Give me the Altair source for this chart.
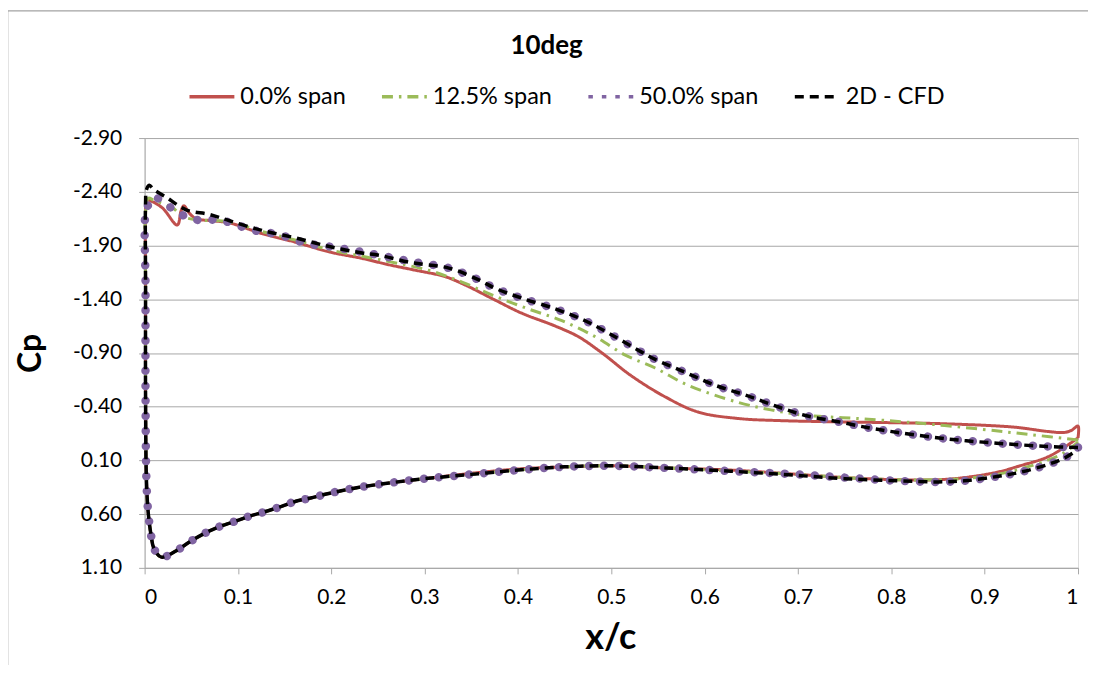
import altair as alt
import pandas as pd

chart_title = ["10deg"]
series_names = ["0.0% span", "12.5% span", "50.0% span", "2D - CFD"]
series_colors = ["#C0504D", "#9BBB59", "#8064A2", "#000000"]

# ---- upper (suction) surface, trailing edge -> leading edge ----
x_up_0 = [1.000, 1.000, 0.993, 0.985, 0.967, 0.931, 0.860, 0.807, 0.735, 0.682, 0.636,
          0.593, 0.558, 0.521, 0.490, 0.465, 0.440, 0.404, 0.376, 0.344, 0.322, 0.290,
          0.262, 0.233, 0.198, 0.162, 0.126, 0.091, 0.073, 0.055, 0.048, 0.042, 0.039,
          0.035, 0.019, 0.005, 0.002]
cp_up_0 = [-0.11, -0.22, -0.18, -0.16, -0.17, -0.21, -0.24, -0.25, -0.26, -0.27, -0.29,
           -0.35, -0.49, -0.69, -0.90, -1.05, -1.15, -1.27, -1.39, -1.53, -1.61, -1.67,
           -1.72, -1.78, -1.84, -1.93, -2.01, -2.11, -2.13, -2.15, -2.20, -2.27, -2.22,
           -2.09, -2.25, -2.32, -2.32]

x_up_125 = [1.000, 0.949, 0.896, 0.825, 0.764, 0.707, 0.671, 0.636, 0.582, 0.547, 0.515,
            0.483, 0.447, 0.411, 0.372, 0.340, 0.304, 0.262, 0.233, 0.198, 0.162, 0.126,
            0.091, 0.055, 0.041, 0.030, 0.010, 0.004]
cp_up_125 = [-0.09, -0.14, -0.19, -0.25, -0.29, -0.32, -0.37, -0.44, -0.60, -0.76, -0.88,
             -1.05, -1.20, -1.31, -1.44, -1.56, -1.67, -1.75, -1.80, -1.86, -1.95, -2.03,
             -2.12, -2.14, -2.17, -2.25, -2.32, -2.34]

x_up_50 = [1.000, 0.967, 0.913, 0.860, 0.807, 0.778, 0.743, 0.707, 0.675, 0.643, 0.611,
           0.579, 0.547, 0.532, 0.500, 0.472, 0.440, 0.404, 0.376, 0.358, 0.326, 0.286,
           0.251, 0.233, 0.198, 0.173, 0.156, 0.139, 0.123, 0.106, 0.089, 0.073, 0.055,
           0.039, 0.025, 0.010, 0.004]
cp_up_50 = [-0.02, -0.03, -0.06, -0.10, -0.16, -0.20, -0.26, -0.32, -0.41, -0.51, -0.60,
            -0.72, -0.84, -0.91, -1.07, -1.20, -1.31, -1.41, -1.50, -1.58, -1.69, -1.75,
            -1.81, -1.84, -1.89, -1.92, -1.97, -2.01, -2.03, -2.07, -2.12, -2.14, -2.14,
            -2.19, -2.27, -2.35, -2.28]

x_up_cfd = [1.000, 0.967, 0.913, 0.860, 0.807, 0.778, 0.743, 0.707, 0.675, 0.643, 0.611,
            0.579, 0.547, 0.532, 0.500, 0.472, 0.440, 0.404, 0.376, 0.358, 0.326, 0.286,
            0.251, 0.233, 0.198, 0.162, 0.126, 0.091, 0.069, 0.045, 0.023, 0.010, 0.005,
            0.002]
cp_up_cfd = [-0.02, -0.03, -0.06, -0.10, -0.16, -0.20, -0.26, -0.32, -0.41, -0.51, -0.60,
             -0.72, -0.84, -0.91, -1.07, -1.20, -1.31, -1.41, -1.50, -1.58, -1.69, -1.74,
             -1.81, -1.83, -1.89, -1.97, -2.04, -2.13, -2.19, -2.23, -2.35, -2.42, -2.46,
             -2.42]

# ---- leading-edge leg + lower (pressure) surface, leading edge -> trailing edge ----
x_lower = [0.001, 0.001, 0.001, 0.002, 0.004, 0.007, 0.010, 0.018, 0.034, 0.048, 0.064,
           0.079, 0.096, 0.112, 0.128, 0.146, 0.162, 0.178, 0.196, 0.212, 0.230, 0.262,
           0.300, 0.350, 0.400, 0.450, 0.500, 0.558, 0.628, 0.700, 0.750, 0.807, 0.850,
           0.878, 0.913, 0.938, 0.967, 0.985, 1.000]
cp_low_0 = [-2.20, -1.50, -0.50, 0.30, 0.60, 0.80, 0.92, 1.00, 0.94, 0.86, 0.78,
            0.72, 0.67, 0.62, 0.58, 0.53, 0.48, 0.45, 0.41, 0.38, 0.35, 0.31,
            0.27, 0.22, 0.18, 0.16, 0.15, 0.17, 0.19, 0.23, 0.26, 0.28, 0.28,
            0.26, 0.21, 0.15, 0.07, -0.02, -0.11]
cp_low_125 = [-2.20, -1.50, -0.50, 0.30, 0.60, 0.80, 0.92, 1.00, 0.94, 0.86, 0.78,
              0.72, 0.67, 0.62, 0.58, 0.53, 0.48, 0.45, 0.41, 0.38, 0.35, 0.31,
              0.27, 0.23, 0.19, 0.16, 0.15, 0.17, 0.20, 0.23, 0.26, 0.28, 0.28,
              0.27, 0.23, 0.18, 0.10, 0.03, -0.07]
cp_low_50 = [-2.20, -1.50, -0.50, 0.30, 0.60, 0.80, 0.92, 1.00, 0.94, 0.86, 0.78,
             0.72, 0.67, 0.62, 0.58, 0.53, 0.48, 0.45, 0.41, 0.38, 0.35, 0.31,
             0.27, 0.23, 0.19, 0.16, 0.15, 0.17, 0.20, 0.23, 0.26, 0.29, 0.30,
             0.29, 0.25, 0.21, 0.14, 0.08, 0.00]
cp_low_cfd = [-2.30, -1.50, -0.50, 0.30, 0.60, 0.80, 0.92, 1.00, 0.94, 0.86, 0.78,
              0.72, 0.67, 0.62, 0.58, 0.53, 0.48, 0.45, 0.41, 0.38, 0.35, 0.31,
              0.27, 0.23, 0.19, 0.16, 0.15, 0.17, 0.20, 0.24, 0.27, 0.29, 0.30,
              0.29, 0.25, 0.21, 0.14, 0.08, 0.00]

x_ticks = [0.0, 0.1, 0.2, 0.3, 0.4, 0.5, 0.6, 0.7, 0.8, 0.9, 1.0]
y_ticks = [-2.9, -2.4, -1.9, -1.4, -0.9, -0.4, 0.1, 0.6, 1.1]


def loop(name, xu, cu, xl, cl):
    xs = list(xu) + list(xl)
    cs = list(cu) + list(cl)
    return pd.DataFrame({"x": xs, "cp": cs, "series": name, "i": range(len(xs))})


frames = {
    series_names[0]: loop(series_names[0], x_up_0, cp_up_0, x_lower, cp_low_0),
    series_names[1]: loop(series_names[1], x_up_125, cp_up_125, x_lower, cp_low_125),
    series_names[2]: loop(series_names[2], x_up_50, cp_up_50, x_lower, cp_low_50),
    series_names[3]: loop(series_names[3], x_up_cfd, cp_up_cfd, x_lower, cp_low_cfd),
}

FONT = "Lato"
GRID = "#A8A8A8"

color_scale = alt.Scale(domain=series_names, range=series_colors)
dash_scale = alt.Scale(domain=series_names,
                       range=[[1, 0], [11, 6, 2.5, 6], [4.5, 9], [9, 6]])

legend = alt.Legend(
    title=None, orient="none", direction="horizontal",
    legendX=43, legendY=-66,
    symbolType="stroke", symbolSize=2025, symbolStrokeWidth=3.5,
    labelFont=FONT, labelFontSize=23.5, labelColor="#000000", labelOffset=4,
    columnPadding=29,
)

x_enc = alt.X("x:Q", scale=alt.Scale(domain=[0, 1], nice=False),
              axis=alt.Axis(values=x_ticks, format=".1~f", grid=False,
                            tickSize=6, tickColor=GRID, domainColor=GRID,
                            labelFont=FONT, labelFontSize=21, labelColor="#000000",
                            labelPadding=13,
                            title="x/c", titleFont=FONT, titleFontSize=36,
                            titleFontWeight="bold", titleColor="#000000",
                            titleX=467, titleY=70, titleAlign="center",
                            titleBaseline="middle"))
y_enc = alt.Y("cp:Q", scale=alt.Scale(domain=[-2.9, 1.1], reverse=True, nice=False, zero=False),
              axis=alt.Axis(values=y_ticks,
                            labelExpr="(datum.value < 0 ? '-' : '') + format(abs(datum.value), '.2f')",
                            grid=True, gridColor=GRID, gridWidth=1,
                            tickSize=6, tickColor=GRID, domainColor=GRID,
                            labelFont=FONT, labelFontSize=21, labelColor="#000000",
                            labelPadding=17,
                            title="Cp", titleFont=FONT, titleFontSize=32,
                            titleFontWeight="bold", titleColor="#000000",
                            titleX=-114, titleY=215.5, titleAngle=270,
                            titleAlign="center", titleBaseline="middle"))

color_enc = alt.Color("series:N", scale=color_scale, legend=legend)
dash_enc = alt.StrokeDash("series:N", scale=dash_scale, legend=legend)
order_enc = alt.Order("i:Q")

red = alt.Chart(frames[series_names[0]]).mark_line(
    strokeWidth=3, interpolate="catmull-rom"
).encode(x=x_enc, y=y_enc, color=color_enc, strokeDash=dash_enc, order=order_enc)

green = alt.Chart(frames[series_names[1]]).mark_line(
    strokeWidth=3, interpolate="catmull-rom"
).encode(x=x_enc, y=y_enc, color=color_enc, strokeDash=dash_enc, order=order_enc)

purple = alt.Chart(frames[series_names[2]]).mark_line(
    strokeWidth=8.5, strokeCap="round", strokeDash=[0.1, 15], interpolate="catmull-rom"
).encode(x=x_enc, y=y_enc, color=color_enc, order=order_enc)

black = alt.Chart(frames[series_names[3]]).mark_line(
    strokeWidth=3.5, interpolate="catmull-rom"
).encode(x=x_enc, y=y_enc, color=color_enc, strokeDash=dash_enc, order=order_enc)

border_left = alt.Chart(alt.Data(values=[{}])).mark_rule(color="#8C8C8C", strokeWidth=1.5).encode(
    x=alt.value(-137.5), y=alt.value(-127.5), y2=alt.value(540))
border_top = alt.Chart(alt.Data(values=[{}])).mark_rule(color="#8C8C8C", strokeWidth=1).encode(
    x=alt.value(-137.5), x2=alt.value(980), y=alt.value(-127.5))

title_text = alt.Chart(pd.DataFrame({"t": chart_title})).mark_text(
    font=FONT, fontSize=26, fontWeight="bold", color="#000000",
    align="center", baseline="alphabetic"
).encode(text="t:N", x=alt.value(403), y=alt.value(-84.5))

chart = alt.layer(border_left, border_top, title_text, red, green, purple, black).properties(
    width=936, height=431,
    autosize=alt.AutoSizeParams(type="none"),
    padding={"left": 137, "top": 129.5, "right": 10, "bottom": 96},
).configure_view(stroke=None).configure(background="white")

chart.save("out.html", embed_options={"renderer": "svg", "actions": False})
